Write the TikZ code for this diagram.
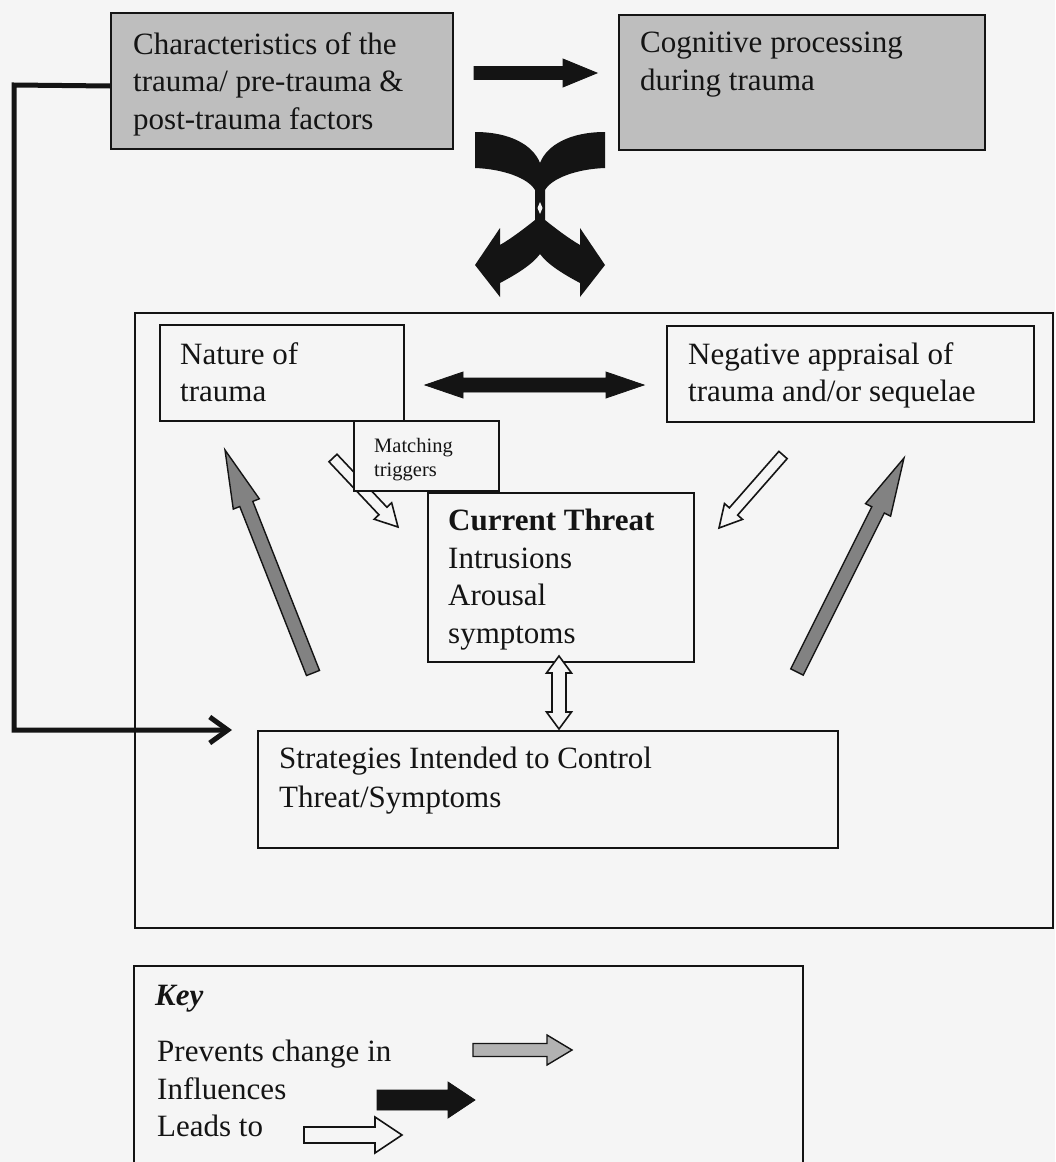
\documentclass[tikz,border=0pt]{standalone}
\usepackage{fontspec}
\setmainfont{Liberation Serif}
\usetikzlibrary{calc,arrows.meta}

\definecolor{paper}{RGB}{245,245,245}
\definecolor{boxgray}{RGB}{190,190,190}
\definecolor{arrowgray}{RGB}{130,130,130}
\definecolor{keygray}{RGB}{178,178,178}
\definecolor{ink}{RGB}{20,20,20}

\tikzset{
  frame/.style={draw=ink, line width=2pt, fill=paper, inner sep=0pt, anchor=north west},
  shaded/.style={frame, fill=boxgray},
  txt/.style={anchor=north west, inner sep=0pt, align=left, text=ink,
              font=\fontsize{31}{37.5}\selectfont},
  smalltxt/.style={txt, font=\fontsize{20.5}{24}\selectfont},
  % straight block arrow: shaft half-width / head half-width / head length
  block/.style n args={3}{to path={
    ($(\tikztotarget)!#3!(\tikztostart)$) coordinate (hb)
    ($(\tikztostart)!#1!90:(\tikztotarget)$)
    -- ($(hb)!#1!90:(\tikztotarget)$)
    -- ($(hb)!#2!90:(\tikztotarget)$)
    -- (\tikztotarget)
    -- ($(hb)!#2!-90:(\tikztotarget)$)
    -- ($(hb)!#1!-90:(\tikztotarget)$)
    -- ($(\tikztostart)!#1!-90:(\tikztotarget)$)
    -- cycle}},
  % block arrow with a head at both ends
  dblock/.style n args={3}{to path={
    ($(\tikztotarget)!#3!(\tikztostart)$) coordinate (hb)
    ($(\tikztostart)!#3!(\tikztotarget)$) coordinate (ha)
    (\tikztostart)
    -- ($(ha)!#2!90:(\tikztotarget)$)
    -- ($(ha)!#1!90:(\tikztotarget)$)
    -- ($(hb)!#1!90:(\tikztotarget)$)
    -- ($(hb)!#2!90:(\tikztotarget)$)
    -- (\tikztotarget)
    -- ($(hb)!#2!-90:(\tikztotarget)$)
    -- ($(hb)!#1!-90:(\tikztotarget)$)
    -- ($(ha)!#1!-90:(\tikztotarget)$)
    -- ($(ha)!#2!-90:(\tikztotarget)$)
    -- cycle}},
  influence/.style={fill=ink, draw=ink, line width=0.8pt, line join=miter},
  leads/.style={fill=paper, draw=ink, line width=1.6pt, line join=miter},
  prevents/.style={fill=arrowgray, draw=ink, line width=1.4pt, line join=miter},
  feedback/.style={draw=ink, line width=5pt, line join=miter,
                   -{Straight Barb[length=18pt,width=26pt]}},
}

\begin{document}
\begin{tikzpicture}[x=1pt,y=-1pt]
  % page
  \fill[paper] (0,0) rectangle (1055,1162);
  \useasboundingbox (0,0) rectangle (1055,1162);

  % outer frame of the maintenance cycle
  \node[frame, minimum width=918pt, minimum height=615pt] (cycle) at (134,312) {};

  % key frame (runs off the bottom of the page)
  \draw[ink, line width=2pt] (134,1162) -- (134,966) -- (803,966) -- (803,1162);

  % top row
  \node[shaded, minimum width=342pt, minimum height=136pt] (char) at (110,12) {};
  \node[txt] (chartxt) at (133,32)
    {Characteristics of the\\trauma/ pre-trauma \&\\post-trauma factors};
  \node[shaded, minimum width=366pt, minimum height=135pt] (cog) at (618,14) {};
  \node[txt] (cogtxt) at (640,32) {Cognitive processing\\during trauma};

  % boxes inside the cycle
  \node[frame, minimum width=244pt, minimum height=96pt] (nature) at (159,324) {};
  \node[txt] (naturetxt) at (180,342) {Nature of\\trauma};
  \node[frame, minimum width=367pt, minimum height=96pt] (neg) at (666,325) {};
  \node[txt] (negtxt) at (688,342) {Negative appraisal of\\trauma and/or sequelae};
  \node[frame, minimum width=266pt, minimum height=169pt] (curr) at (427,492) {};
  \node[txt] (currtxt) at (448,509)
    {\textbf{Current Threat}\\Intrusions\\Arousal\\symptoms};
  \node[frame, minimum width=580pt, minimum height=117pt] (strat) at (257,730) {};
  \node[txt, font=\fontsize{31}{39}\selectfont] (strattxt) at (279,747)
    {Strategies Intended to Control\\Threat/Symptoms};

  % arrow ends
  \coordinate (topA) at (474,73);   \coordinate (topB) at (597,73);
  \coordinate (midA) at (425,385);  \coordinate (midB) at (644,385);
  \coordinate (trgA) at (333,458);  \coordinate (trgB) at (398,527);
  \coordinate (apA)  at (783,455);  \coordinate (apB)  at (719,528);
  \coordinate (pcA)  at (313,673);  \coordinate (pcB)  at (225,450);
  \coordinate (prA)  at (797,672);  \coordinate (prB)  at (904,458);
  \coordinate (vA)   at (559,656);  \coordinate (vB)   at (559,729);
  \coordinate (bend) at (14,85);
  \coordinate (stratIn) at ([xshift=-25pt]strat.north west);

  % matching triggers arrow passes behind its label box
  \draw[leads] (trgA) to[block={5.5pt}{12pt}{22pt}] (trgB);
  \node[frame, minimum width=145pt, minimum height=70pt] (match) at (353,420) {};
  \node[smalltxt] (matchtxt) at (374,438) {Matching\\triggers};

  % connectors
  \draw[influence] (topA) to[block={6.5pt}{14pt}{34pt}] (topB);
  \draw[influence] (midA) to[dblock={7pt}{13pt}{38pt}] (midB);
  \draw[leads] (apA) to[block={5.5pt}{12pt}{22pt}] (apB);
  \draw[prevents] (pcA) to[block={7pt}{14pt}{58pt}] (pcB);
  \draw[prevents] (prA) to[block={7pt}{14pt}{58pt}] (prB);
  \draw[leads] (vA) to[dblock={7pt}{12.5pt}{17pt}] (vB);
  \draw[feedback] ([yshift=-5pt]char.west) -- (bend) |- (stratIn);

  % paired curved arrows below the top row
  \fill[ink] (475,132) .. controls (510,132) and (533,145) .. (540,163)
    .. controls (547,145) and (570,132) .. (605,132)
    -- (605,168)
    .. controls (577,169) and (552,178) .. (545,190)
    -- (545,220)
    .. controls (555,228) and (568,238) .. (580,245)
    -- (580,228) -- (605,265) -- (580,297) -- (580,283)
    .. controls (565,275) and (548,265) .. (540,254)
    .. controls (532,265) and (515,275) .. (500,283)
    -- (500,297) -- (475,265) -- (500,228) -- (500,245)
    .. controls (512,238) and (525,228) .. (535,220)
    -- (535,190)
    .. controls (528,178) and (503,169) .. (475,168)
    -- cycle;
  \fill[paper] (540,202) -- (542.5,208) -- (540,214) -- (537.5,208) -- cycle;

  % key
  \node[txt, anchor=north west] (keyhead) at (155,985) {\textbf{\textit{Key}}};
  \node[txt] (keytxt) at (157,1040) {Prevents change in\\Influences\\Leads to};
  \coordinate (k1A) at (473,1050); \coordinate (k1B) at (572,1050);
  \coordinate (k2A) at (377,1100); \coordinate (k2B) at (475,1100);
  \coordinate (k3A) at (304,1135); \coordinate (k3B) at (402,1135);
  \draw[prevents, fill=keygray] (k1A) to[block={6.5pt}{15pt}{25pt}] (k1B);
  \draw[influence] (k2A) to[block={10pt}{18pt}{27pt}] (k2B);
  \draw[leads] (k3A) to[block={8pt}{18pt}{27pt}] (k3B);
\end{tikzpicture}
\end{document}
